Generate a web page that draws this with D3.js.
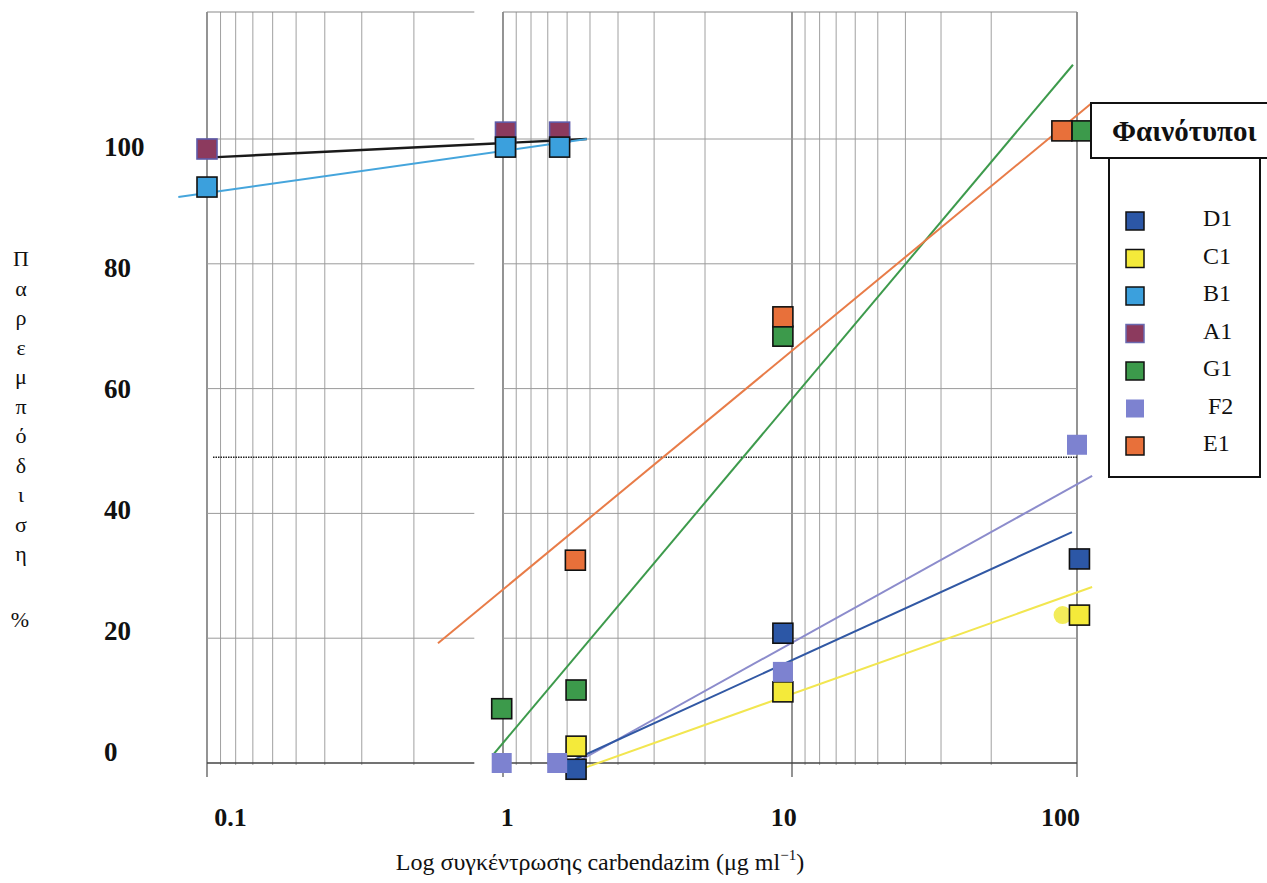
<!DOCTYPE html>
<html>
<head>
<meta charset="utf-8">
<script src="https://cdn.jsdelivr.net/npm/d3@7"></script>
<style>
  body { margin: 0; background: #fff; }
  svg { display: block; font-family: "Liberation Serif", "DejaVu Serif", serif; }
</style>
</head>
<body>
<svg id="chart" width="1267" height="883"></svg>
<script>
// tick labels
const xTicks = [0.1, 1, 10, 100];
const yTicks = [0, 20, 40, 60, 80, 100];

// phenotypes, in legend order
const phenotypes = ["D1", "C1", "B1", "A1", "G1", "F2", "E1"];

// measured points [concentration, % inhibition]
const pointsA1 = [[0.1, 98.4], [1.02, 101.1], [1.57, 101.1]];
const pointsB1 = [[0.1, 92.3], [1.02, 98.7], [1.57, 98.7]];
const pointsD1 = [[1.79, -1.0], [9.3, 20.8], [102, 32.7]];
const pointsC1 = [[1.79, 2.7], [9.3, 11.4], [102, 23.7]];
const pointsG1 = [[0.99, 8.7], [1.79, 11.7], [9.3, 68.4], [104, 101.3]];
const pointsE1 = [[1.78, 32.5], [9.3, 71.5], [88.5, 101.3]];
const pointsF2 = [[0.99, 0], [1.54, 0], [9.3, 14.6], [100, 51.0]];
const ghostC1 = [[89, 23.7]];

// fitted trend lines (end points)
const fitA1 = [[0.108, 97.1], [1.95, 100.0]];
const fitB1 = [[0.080, 90.7], [1.95, 100.0]];
const fitG1 = [[0.925, 1.3], [96.8, 111.9]];
const fitE1 = [[0.603, 19.2], [113, 105.8]];
const fitF2 = [[1.78, 0.0], [113, 46.0]];
const fitD1 = [[1.78, 0.6], [96, 37.0]];
const fitC1 = [[1.78, -1.3], [113, 28.2]];

const threshold = 49;

const colors = {
  D1: "#2c57a6", C1: "#f4ea3a", B1: "#3ba0dd", A1: "#8c3a5e",
  G1: "#3c9a4b", F2: "#7d82d0", E1: "#e8703a"
};
const lineColors = {
  A1: "#1a1a1a", B1: "#45a5dc", G1: "#3d9a4c", E1: "#e87c48",
  F2: "#8c8ccc", D1: "#3158a4", C1: "#f2e650"
};
const strokes = {
  D1: "#111", C1: "#111", B1: "#111", A1: "#5e5aa8", G1: "#111", F2: "none", E1: "#111"
};

const svg = d3.select("#chart");

const x = d3.scaleLog().domain([0.1, 1, 10, 100]).range([207, 503, 792, 1077]);
const y = d3.scaleLinear().domain([0, 100]).range([763, 139]);
// the printed labels sit slightly off the grid in the scan
const xLab = d3.scaleLog().domain([0.1, 100]).range([230, 1060]);
const yLab = d3.scaleLinear().domain([0, 100]).range([752, 147]);

const gridTop = 12, gridBottom = 765;

// reversed-log grid of the graph paper
const vGrid = [0.1];
[0.1, 1, 10].forEach(b => { for (let k = 1; k <= 9; k++) vGrid.push(b * 10 / k); });
const isMain = d => xTicks.includes(+d.toFixed(3));

const grid = svg.append("g");
grid.selectAll("line.v")
  .data(vGrid)
  .join("line")
  .attr("x1", d => x(d)).attr("x2", d => x(d))
  .attr("y1", gridTop)
  .attr("y2", d => (isMain(d) ? 777 : gridBottom))
  .attr("stroke", d => (isMain(d) ? "#666" : "#a0a0a0"))
  .attr("stroke-width", d => (isMain(d) ? 1.4 : 1));

// horizontal lines, split where the scanned sheet has a gap
const panels = [[0.1, 0.8], [1, 100]];
yTicks.forEach(t => {
  panels.forEach(p => {
    grid.append("line")
      .attr("x1", x(p[0])).attr("x2", x(p[1]))
      .attr("y1", y(t)).attr("y2", y(t))
      .attr("stroke", t === 0 ? "#444" : "#9a9a9a")
      .attr("stroke-width", t === 0 ? 1.6 : 1);
  });
});
panels.forEach(p => {
  grid.append("line")
    .attr("x1", x(p[0])).attr("x2", x(p[1]))
    .attr("y1", gridTop).attr("y2", gridTop)
    .attr("stroke", "#8a8a8a").attr("stroke-width", 1.2);
});

// 50% dotted line
svg.append("line")
  .attr("x1", x(0.1) + 6).attr("x2", x(100))
  .attr("y1", y(threshold)).attr("y2", y(threshold))
  .attr("stroke", "#222").attr("stroke-width", 1.6)
  .attr("stroke-dasharray", "1.5,1");

// axes (labels only)
const yAxis = svg.append("g")
  .attr("transform", "translate(104,0)")
  .call(d3.axisRight(yLab).tickValues(yTicks).tickSize(0).tickPadding(0));
yAxis.select(".domain").remove();
yAxis.selectAll("text")
  .attr("font-family", "Liberation Serif, serif")
  .attr("font-size", 27).attr("font-weight", "bold").attr("fill", "#111");

const xAxis = svg.append("g")
  .attr("transform", "translate(0,808)")
  .call(d3.axisBottom(xLab).tickValues(xTicks).tickSize(0).tickPadding(0)
    .tickFormat(d => String(d)));
xAxis.select(".domain").remove();
xAxis.selectAll("text")
  .attr("font-family", "Liberation Serif, serif")
  .attr("font-size", 26).attr("font-weight", "bold").attr("fill", "#111");

// axis titles
const xt = svg.append("text")
  .attr("x", 600).attr("y", 870)
  .attr("text-anchor", "middle")
  .attr("font-size", 24).attr("fill", "#111");
xt.append("tspan").text("Log συγκέντρωσης carbendazim (μg ml");
xt.append("tspan").attr("dy", -10).attr("font-size", 15).text("−1");
xt.append("tspan").attr("dy", 10).text(")");

const yTitle = "Παρεμπόδιση".split("");
svg.append("g").selectAll("text")
  .data(yTitle)
  .join("text")
  .attr("x", 21)
  .attr("y", (d, i) => 266 + i * 29.5)
  .attr("text-anchor", "middle")
  .attr("font-size", 22).attr("fill", "#111")
  .text(d => d);
svg.append("text")
  .attr("x", 20).attr("y", 627)
  .attr("text-anchor", "middle")
  .attr("font-size", 22).attr("fill", "#111")
  .text("%");

// trend lines
const line = d3.line().x(d => x(d[0])).y(d => y(d[1]));
const fits = [["A1", fitA1], ["B1", fitB1], ["G1", fitG1], ["E1", fitE1],
              ["F2", fitF2], ["D1", fitD1], ["C1", fitC1]];
svg.append("g").selectAll("path")
  .data(fits)
  .join("path")
  .attr("d", d => line(d[1]))
  .attr("fill", "none")
  .attr("stroke", d => lineColors[d[0]])
  .attr("stroke-width", d => (d[0] === "A1" ? 2.4 : 2));

// stray yellow dot near 100
svg.append("g").selectAll("circle")
  .data(ghostC1)
  .join("circle")
  .attr("cx", d => x(d[0])).attr("cy", d => y(d[1]))
  .attr("r", 9).attr("fill", "#f2ec5a");

// points
const size = 20;
const series = [["A1", pointsA1], ["B1", pointsB1], ["D1", pointsD1], ["C1", pointsC1],
                ["G1", pointsG1], ["E1", pointsE1], ["F2", pointsF2]];
series.forEach(([name, pts]) => {
  svg.append("g").selectAll("rect")
    .data(pts)
    .join("rect")
    .attr("x", d => x(d[0]) - size / 2)
    .attr("y", d => y(d[1]) - size / 2)
    .attr("width", size).attr("height", size)
    .attr("fill", colors[name])
    .attr("stroke", strokes[name])
    .attr("stroke-width", 1.6);
});

// legend title box
const lg = svg.append("g");
lg.append("rect")
  .attr("x", 1091).attr("y", 103).attr("width", 200).attr("height", 55)
  .attr("fill", "#fff").attr("stroke", "#111").attr("stroke-width", 2);
lg.append("text")
  .attr("x", 1112).attr("y", 141)
  .attr("font-size", 29).attr("font-weight", "bold").attr("fill", "#111")
  .text("Φαινότυποι");

// legend body
lg.append("rect")
  .attr("x", 1109).attr("y", 158).attr("width", 151).attr("height", 319)
  .attr("fill", "#fff").attr("stroke", "#111").attr("stroke-width", 2);
const items = lg.selectAll("g.item")
  .data(phenotypes)
  .join("g")
  .attr("transform", (d, i) => `translate(0,${221 + i * 37.5})`);
items.append("rect")
  .attr("x", 1126).attr("y", -9).attr("width", 18).attr("height", 18)
  .attr("fill", d => colors[d])
  .attr("stroke", d => (d === "F2" ? "none" : d === "A1" ? "#6a6ab0" : "#111"))
  .attr("stroke-width", 1.5);
items.append("text")
  .attr("x", d => (d === "F2" ? 1208 : 1203)).attr("y", 5)
  .attr("font-size", 24).attr("fill", "#111")
  .text(d => d);
</script>
</body>
</html>
